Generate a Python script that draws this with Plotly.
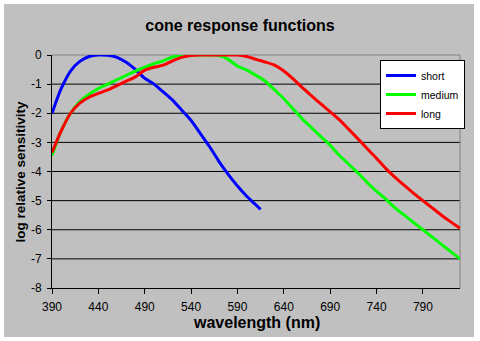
import plotly.graph_objects as go

wl_short = [390, 400, 410, 420, 430, 440, 450, 460, 470, 480, 490, 500, 510, 520,
            530, 540, 550, 560, 570, 580, 590, 600, 610, 615]
short = [-2.0, -1.15, -0.55, -0.22, -0.05, 0.0, -0.01, -0.08, -0.25, -0.5, -0.8, -1.0,
         -1.27, -1.55, -1.9, -2.25, -2.7, -3.15, -3.65, -4.1, -4.5, -4.85, -5.15, -5.3]

wl = [390, 400, 410, 420, 430, 440, 450, 460, 470, 480, 490, 500, 510, 520, 530, 540,
      550, 560, 570, 580, 590, 600, 610, 620, 630, 640, 650, 660, 670, 680, 690, 700,
      710, 720, 730, 740, 750, 760, 770, 780, 790, 800, 810, 820, 830]
medium = [-3.45, -2.6, -2.0, -1.6, -1.35, -1.15, -1.0, -0.85, -0.7, -0.55, -0.42, -0.3,
          -0.2, -0.07, -0.01, 0.0, 0.0, 0.0, -0.02, -0.15, -0.38, -0.52, -0.7, -0.9,
          -1.2, -1.5, -1.85, -2.2, -2.5, -2.8, -3.1, -3.45, -3.75, -4.05, -4.38, -4.68,
          -4.95, -5.25, -5.5, -5.75, -6.0, -6.25, -6.5, -6.75, -7.0]
long_ = [-3.35, -2.6, -2.0, -1.65, -1.45, -1.32, -1.2, -1.05, -0.9, -0.75, -0.52, -0.42,
         -0.35, -0.2, -0.08, -0.02, 0.0, 0.0, 0.0, 0.0, 0.0, -0.05, -0.15, -0.24, -0.35,
         -0.55, -0.82, -1.12, -1.4, -1.68, -1.95, -2.23, -2.55, -2.88, -3.22, -3.55,
         -3.9, -4.2, -4.48, -4.75, -5.0, -5.25, -5.5, -5.73, -5.95]

x_ticks = [390, 440, 490, 540, 590, 640, 690, 740, 790]
y_ticks = [0, -1, -2, -3, -4, -5, -6, -7, -8]
grid_vals = [-1, -2, -3, -4, -5, -6, -7]

FONT = "Liberation Sans, Arial, sans-serif"

fig = go.Figure()
fig.add_trace(go.Scatter(x=wl_short, y=short, mode="lines", name="short",
                         line=dict(color="#0000FF", width=3, shape="spline", smoothing=0.8)))
fig.add_trace(go.Scatter(x=wl, y=medium, mode="lines", name="medium",
                         line=dict(color="#00FF00", width=3, shape="spline", smoothing=0.8)))
fig.add_trace(go.Scatter(x=wl, y=long_, mode="lines", name="long",
                         line=dict(color="#FF0000", width=3, shape="spline", smoothing=0.8)))

W, H = 480, 341
L, R, T, B = 52, 20, 55, 53
pw, ph = W - L - R, H - T - B

def px_x(p):
    return (p - L) / pw

def px_y(p):
    return (H - B - p) / ph

shapes = [
    dict(type="rect", xref="paper", yref="paper", x0=px_x(4), x1=px_x(474),
         y0=px_y(337), y1=px_y(4), fillcolor="#C0C0C0", line=dict(width=0), layer="below"),
]
for g in grid_vals:
    shapes.append(dict(type="line", xref="paper", yref="y", x0=0, x1=1, y0=g, y1=g,
                       line=dict(color="black", width=1), layer="below"))
shapes.append(dict(type="line", xref="paper", yref="paper", x0=0, x1=1, y0=1, y1=1,
                   line=dict(color="#808080", width=1), layer="below"))
shapes.append(dict(type="line", xref="paper", yref="paper", x0=1, x1=1, y0=0, y1=1,
                   line=dict(color="#808080", width=1), layer="below"))

fig.update_layout(
    width=W, height=H,
    margin=dict(l=L, r=R, t=T, b=B),
    paper_bgcolor="white",
    plot_bgcolor="#C0C0C0",
    font=dict(family=FONT, color="black", size=12),
    title=dict(text="cone response functions", x=0.5, xref="container",
               y=1 - 25 / H, yref="container", xanchor="center", yanchor="middle",
               font=dict(family=FONT, size=16, weight="bold", color="black")),
    showlegend=True,
    legend=dict(x=px_x(380), y=px_y(60), xanchor="left", yanchor="top",
                bgcolor="white", bordercolor="black", borderwidth=1,
                font=dict(family=FONT, size=10.5, color="black"),
                itemwidth=30, tracegroupgap=0),
    shapes=shapes,
    annotations=[
        dict(text="log relative sensitivity", xref="paper", yref="paper", x=0, y=0.5,
             xanchor="center", yanchor="middle", xshift=20 - L, textangle=-90,
             showarrow=False, font=dict(family=FONT, size=13.5, weight="bold", color="black")),
        dict(text="wavelength (nm)", xref="paper", yref="paper", x=0.5, y=0,
             xanchor="center", yanchor="middle", yshift=-(322 - (H - B)),
             showarrow=False, font=dict(family=FONT, size=16, weight="bold", color="black")),
    ],
)
fig.update_xaxes(range=[390, 830], tickvals=x_ticks, ticktext=[str(v) for v in x_ticks],
                 showgrid=False, zeroline=False, showline=True, linecolor="black",
                 linewidth=1, ticks="outside", ticklen=5, tickcolor="black",
                 ticklabelstandoff=3,
                 tickfont=dict(family=FONT, size=12, color="black"))
fig.update_yaxes(range=[-8, 0], tickvals=y_ticks, ticktext=[str(v) for v in y_ticks],
                 showgrid=False, zeroline=False, showline=True, linecolor="black",
                 linewidth=1, ticks="outside", ticklen=4, tickcolor="black",
                 ticklabelstandoff=3,
                 tickfont=dict(family=FONT, size=12, color="black"))

fig.write_html("out.html")
